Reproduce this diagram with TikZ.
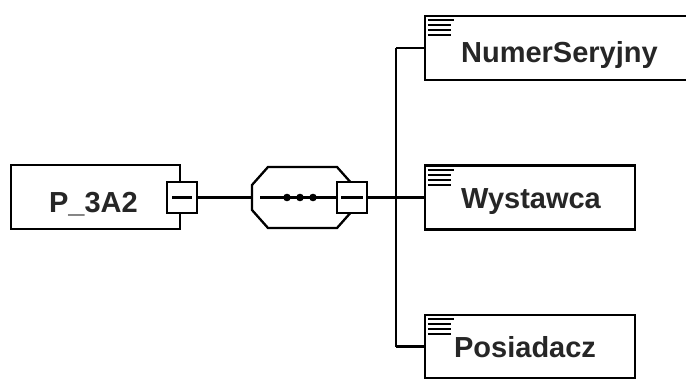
\documentclass[tikz,border=0pt]{standalone}
\usepackage{fontspec}
\setmainfont{Liberation Sans}
\begin{document}
\begin{tikzpicture}[x=1pt,y=-1pt,line width=2.3pt,
  box/.style={draw,line width=2.3pt,inner sep=0,fill=white},
  mbox/.style={draw,line width=2.3pt,inner sep=0,fill=white,minimum width=30pt,minimum height=31pt},
  lbl/.style={anchor=base west,inner sep=0,font=\bfseries\fontsize{29}{29}\selectfont,text=black!85},
  icon/.style={line width=2.2pt}]
\useasboundingbox (0,0) rectangle (686,383);
\clip (0,0) rectangle (686,383);
% root element
\node[box,minimum width=169pt,minimum height=64pt] (root) at (95.5,197) {};
\node[lbl] (rootlbl) at (48,212) {P\_3A2};
\node[mbox] (rm) at (182,197.5) {};
\draw ([xshift=-10pt]rm.center) -- ([xshift=10pt]rm.center);
% sequence compositor
\node[inner sep=0,minimum width=101pt,minimum height=61pt] (seq) at (302.5,197.5) {};
\draw (rm.east) -- (seq.west);
\draw[shift={(seq.center)}] (-50.5,-12.5) -- (-34.5,-30.5) -- (34.5,-30.5) -- (50.5,-12.5)
  -- (50.5,12.5) -- (34.5,30.5) -- (-34.5,30.5) -- (-50.5,12.5) -- cycle;
\coordinate (seqin) at ([xshift=-42.5pt]seq.center);
\foreach \dx in {-15.5,-2.5,10.5}{\fill ([xshift=\dx pt]seq.center) circle (3.8pt);}
\node[mbox] (sm) at (352,197.5) {};
\draw (seqin) -- (sm.west);
\draw ([xshift=-11pt]sm.center) -- ([xshift=11pt]sm.center);
% children
\node[box,minimum width=275pt,minimum height=64pt] (c1) at (562.5,48) {};
\node[box,minimum width=210pt,minimum height=64pt] (c2) at (530,197.5) {};
\node[box,minimum width=210pt,minimum height=63pt] (c3) at (530,346.5) {};
\node[lbl] (l1) at (460,62) {NumerSeryjny};
\node[lbl] (l2) at (460,208) {Wystawca};
\node[lbl] (l3) at (453,357) {Posiadacz};
\foreach \c in {c1,c2,c3}{
  \draw[icon,shift={(\c.north west)}] (4,5.5)--(30,5.5) (4,10.5)--(27,10.5) (4,15.5)--(27,15.5) (4,20.5)--(27,20.5);
}
% bus
\coordinate (bus) at (396,197.5);
\draw (sm.east) -- (bus);
\draw (bus |- c1.west) -- (bus |- c3.west);
\draw (bus |- c1.west) -- (c1.west);
\draw (bus) -- (c2.west);
\draw (bus |- c3.west) -- (c3.west);
\end{tikzpicture}
\end{document}
